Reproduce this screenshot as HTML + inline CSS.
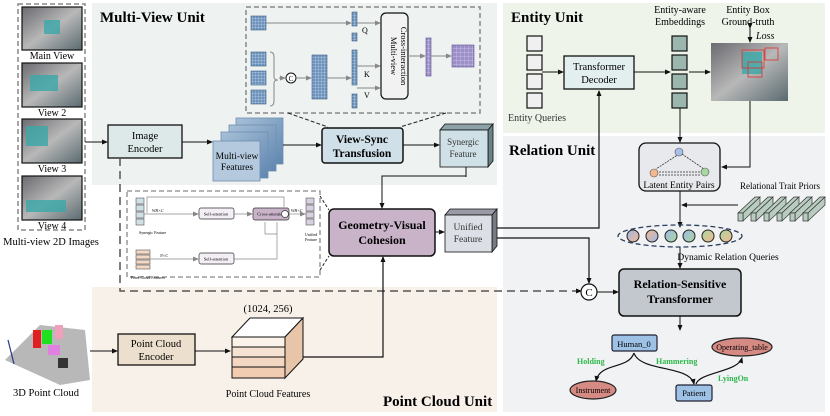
<!DOCTYPE html>
<html><head><meta charset="utf-8"><style>
html,body{margin:0;padding:0;background:#fff}
svg{display:block;font-family:"Liberation Serif",serif}
</style></head><body>
<svg width="830" height="416" viewBox="0 0 830 416" xmlns="http://www.w3.org/2000/svg">
<defs>
<marker id="a" markerWidth="6" markerHeight="6" refX="5" refY="3" orient="auto" markerUnits="userSpaceOnUse"><path d="M0,0.5 L6,3 L0,5.5z" fill="#111"/></marker>
<marker id="g" markerWidth="6" markerHeight="6" refX="5" refY="3" orient="auto" markerUnits="userSpaceOnUse"><path d="M0,0.5 L6,3 L0,5.5z" fill="#888"/></marker>
<pattern id="gb" width="3" height="3" patternUnits="userSpaceOnUse"><rect width="3" height="3" fill="#6d93bd"/><path d="M0,0 H3 M0,0 V3" stroke="#dce8f4" stroke-width=".5"/></pattern>
<pattern id="gp" width="4" height="4" patternUnits="userSpaceOnUse"><rect width="4" height="4" fill="#9c8fc8"/><path d="M0,0 H4 M0,0 V4" stroke="#e8e4f4" stroke-width=".5"/></pattern>
<linearGradient id="mv" x1="0" y1="0" x2="1" y2="1"><stop offset="0" stop-color="#a8c0d8"/><stop offset="1" stop-color="#5f86b0"/></linearGradient>
<linearGradient id="room" x1="0" y1="0" x2="1" y2="1"><stop offset="0" stop-color="#6a6a70"/><stop offset=".5" stop-color="#b8b8b8"/><stop offset="1" stop-color="#5a6a70"/></linearGradient>
<linearGradient id="q1" x1="0" y1="0" x2="1" y2="1"><stop offset="0" stop-color="#9fb8e8"/><stop offset="1" stop-color="#f4b890"/></linearGradient>
<linearGradient id="q2" x1="0" y1="0" x2="1" y2="1"><stop offset="0" stop-color="#f4b890"/><stop offset="1" stop-color="#9fb8e8"/></linearGradient>
<linearGradient id="q3" x1="0" y1="0" x2="1" y2="1"><stop offset="0" stop-color="#9fb8e8"/><stop offset="1" stop-color="#a8d8a0"/></linearGradient>
<linearGradient id="q4" x1="0" y1="0" x2="1" y2="1"><stop offset="0" stop-color="#a8d8a0"/><stop offset="1" stop-color="#f4b890"/></linearGradient>
</defs>
<rect x="92" y="3" width="405" height="182" fill="#eef2f1"/>
<rect x="92" y="287" width="405" height="125" fill="#f8f1ea"/>
<rect x="503" y="3" width="322" height="130" fill="#eef4ea"/>
<rect x="503" y="136" width="322" height="276" fill="#f1f2f4"/>
<text x="100" y="22" font-size="15" font-weight="bold">Multi-View Unit</text>
<text x="511" y="22" font-size="15" font-weight="bold">Entity Unit</text>
<text x="509" y="155" font-size="15" font-weight="bold">Relation Unit</text>
<text x="383" y="406" font-size="15" font-weight="bold">Point Cloud Unit</text>

<rect x="18" y="4" width="67" height="226" fill="none" stroke="#888" stroke-width="1.5" stroke-dasharray="5,3"/>
<g stroke="#111" stroke-width="1.2">
<rect x="22" y="7" width="60" height="43" fill="url(#room)"/>
<rect x="22" y="63" width="60" height="44" fill="url(#room)"/>
<rect x="22" y="119" width="60" height="44" fill="url(#room)"/>
<rect x="22" y="176" width="60" height="44" fill="url(#room)"/>
</g>
<g fill="#3aa8a8" opacity=".8"><rect x="44" y="20" width="16" height="14"/><rect x="30" y="75" width="28" height="16"/><rect x="26" y="126" width="22" height="20"/><rect x="26" y="200" width="40" height="12"/></g>
<g font-size="10" text-anchor="middle"><text x="52" y="59">Main View</text><text x="52" y="116">View 2</text><text x="52" y="172">View 3</text><text x="52" y="229">View 4</text></g>
<text x="51" y="245" font-size="10.5" text-anchor="middle">Multi-view 2D Images</text>

<path d="M5,360 L40,325 L85,330 L90,380 L60,385 Z" fill="#b8b8b8"/>
<rect x="33" y="330" width="8" height="18" fill="#e02020"/><rect x="42" y="330" width="10" height="14" fill="#20e020"/><rect x="55" y="325" width="8" height="14" fill="#f0a0b8"/><rect x="48" y="345" width="12" height="10" fill="#e080e0"/><rect x="58" y="358" width="10" height="10" fill="#333"/>
<line x1="8" y1="340" x2="14" y2="364" stroke="#2a3a8a" stroke-width="1.2"/>
<text x="46" y="396" font-size="10.5" text-anchor="middle">3D Point Cloud</text>

<line x1="85" y1="142" x2="107" y2="142" stroke="#111" marker-end="url(#a)"/>
<rect x="108" y="125" width="74" height="33" fill="#dde9e8" stroke="#111" stroke-width="1.3"/>
<text x="145" y="139" font-size="10.5" text-anchor="middle">Image</text><text x="145" y="152" font-size="10.5" text-anchor="middle">Encoder</text>
<line x1="182" y1="142" x2="212" y2="142" stroke="#111" marker-end="url(#a)"/>
<g stroke="#6f8fae" stroke-width=".8">
<rect x="236" y="118" width="47" height="46" fill="url(#mv)"/>
<rect x="229" y="125" width="47" height="46" fill="url(#mv)"/>
<rect x="221" y="132" width="47" height="46" fill="url(#mv)"/>
<rect x="213" y="141" width="47" height="40" fill="#b4c8de"/>
</g>
<text x="237" y="159" font-size="9.5" text-anchor="middle">Multi-view</text><text x="237" y="170" font-size="9.5" text-anchor="middle">Features</text>
<line x1="283" y1="145" x2="321" y2="145" stroke="#111" marker-end="url(#a)"/>
<rect x="322" y="128" width="81" height="35" rx="3" fill="#cfe0e8" stroke="#111" stroke-width="1.5"/>
<text x="362" y="143" font-size="11.5" font-weight="bold" text-anchor="middle">View-Sync</text><text x="362" y="157" font-size="11.5" font-weight="bold" text-anchor="middle">Transfusion</text>
<line x1="403" y1="145" x2="439" y2="145" stroke="#111" marker-end="url(#a)"/>
<polygon points="440,130 445,124 493,124 488,130" fill="#8aa2a8" stroke="#111" stroke-width=".8"/>
<polygon points="488,130 493,124 493,161 488,167" fill="#6a8288" stroke="#111" stroke-width=".8"/>
<rect x="440" y="130" width="48" height="37" fill="#cfe0e6" stroke="#111" stroke-width=".8"/>
<text x="463" y="145" font-size="9" text-anchor="middle" fill="#333">Synergic</text><text x="463" y="157" font-size="9" text-anchor="middle" fill="#333">Feature</text>
<rect x="246" y="7" width="234" height="106" fill="none" stroke="#888" stroke-width="1.5" stroke-dasharray="5,3"/>
<line x1="288" y1="113" x2="328" y2="127" stroke="#222" stroke-dasharray="4,2"/>
<line x1="446" y1="113" x2="400" y2="127" stroke="#222" stroke-dasharray="4,2"/>
<g fill="url(#gb)" stroke="#3d5f86" stroke-width=".6">
<rect x="251" y="16" width="15" height="14"/><rect x="251" y="52" width="15" height="14"/><rect x="251" y="71" width="15" height="14"/><rect x="251" y="90" width="15" height="14"/>
<rect x="312" y="55" width="15" height="44"/>
<rect x="352" y="12" width="5" height="14"/><rect x="352" y="33" width="5" height="8"/>
<rect x="352" y="50" width="5" height="35"/><rect x="352" y="94" width="5" height="14"/>
</g>
<rect x="426" y="38" width="5" height="38" fill="url(#gp)" stroke="#5e4f90" stroke-width=".6"/>
<rect x="452" y="45" width="22" height="22" fill="url(#gp)" stroke="#5e4f90" stroke-width=".6"/>
<path d="M270,52 q4,0 4,5 v20 q0,3 4,3 q-4,0 -4,3 v18 q0,5 -4,5" fill="none" stroke="#888"/>
<circle cx="291" cy="78" r="5" fill="#fff" stroke="#111"/><text x="291" y="81" font-size="7" text-anchor="middle">C</text>
<line x1="279" y1="78" x2="285" y2="78" stroke="#888" marker-end="url(#g)"/>
<line x1="296" y1="78" x2="311" y2="78" stroke="#888" marker-end="url(#g)"/>
<line x1="327" y1="78" x2="351" y2="78" stroke="#888" marker-end="url(#g)"/>
<line x1="266" y1="23" x2="351" y2="23" stroke="#888" marker-end="url(#g)"/>
<line x1="357" y1="23" x2="380" y2="23" stroke="#888" marker-end="url(#g)"/>
<line x1="357" y1="66" x2="380" y2="66" stroke="#888" marker-end="url(#g)"/>
<line x1="357" y1="88" x2="380" y2="88" stroke="#888" marker-end="url(#g)"/>
<text x="362" y="33" font-size="8">Q</text><text x="364" y="77" font-size="8">K</text><text x="364" y="98" font-size="8">V</text>
<rect x="381" y="13" width="27" height="86" rx="5" fill="#f2f2f2" stroke="#111" stroke-width="1.2"/>
<text transform="translate(391,56) rotate(90)" font-size="8.5" text-anchor="middle">Multi-view</text>
<text transform="translate(401,56) rotate(90)" font-size="8.5" text-anchor="middle">Cross-interaction</text>
<line x1="408" y1="56" x2="425" y2="56" stroke="#888" marker-end="url(#g)"/>
<line x1="431" y1="56" x2="451" y2="56" stroke="#888" marker-end="url(#g)"/>

<path d="M120,158 V291 H581" fill="none" stroke="#555" stroke-width="1.5" stroke-dasharray="8,5" marker-end="url(#a)"/>
<rect x="127" y="191" width="193" height="86" fill="#fff" stroke="#888" stroke-width="1.3" stroke-dasharray="5,3"/>
<line x1="320" y1="196" x2="329" y2="210" stroke="#222" stroke-dasharray="3,2"/>
<line x1="320" y1="270" x2="329" y2="256" stroke="#222" stroke-dasharray="3,2"/>
<g fill="#cfe0e6" stroke="#555" stroke-width=".6"><rect x="136" y="198" width="8" height="6"/><rect x="136" y="205" width="8" height="6"/><rect x="136" y="212" width="8" height="6"/><rect x="136" y="219" width="8" height="6"/></g>
<g fill="#d8cfe0" stroke="#555" stroke-width=".6"><rect x="306" y="198" width="8" height="6"/><rect x="306" y="205" width="8" height="6"/><rect x="306" y="212" width="8" height="6"/><rect x="306" y="219" width="8" height="6"/></g>
<g fill="#f3d8c4" stroke="#555" stroke-width=".6"><rect x="136" y="250" width="14" height="4"/><rect x="136" y="255" width="14" height="4"/><rect x="136" y="260" width="14" height="4"/><rect x="136" y="265" width="14" height="4"/></g>
<text x="139" y="234" font-size="4">Synergic Feature</text><text x="131" y="279" font-size="4">Point Cloud Features</text>
<text x="305" y="236" font-size="4">Unified</text><text x="305" y="241" font-size="4">Feature</text>
<path d="M147,213 V197 H284 V207" fill="none" stroke="#888" stroke-width=".7"/>
<line x1="144" y1="214" x2="198" y2="214" stroke="#888" stroke-width=".7" marker-end="url(#g)"/>
<rect x="199" y="208" width="35" height="11" rx="2" fill="#f4eef6" stroke="#333" stroke-width=".7"/><text x="216" y="215.5" font-size="4.5" text-anchor="middle">Self-attention</text>
<line x1="234" y1="214" x2="252" y2="214" stroke="#888" stroke-width=".7" marker-end="url(#g)"/>
<rect x="253" y="208" width="36" height="12" rx="2" fill="#c9b3c9" stroke="#333" stroke-width=".7"/><text x="271" y="215.5" font-size="4.5" text-anchor="middle">Cross-attention</text>
<circle cx="285" cy="214" r="3.5" fill="#fff" stroke="#333" stroke-width=".7"/>
<line x1="289" y1="214" x2="305" y2="214" stroke="#888" stroke-width=".7" marker-end="url(#g)"/>
<text x="152" y="212" font-size="4" font-style="italic">WH×C</text><text x="291" y="212" font-size="4" font-style="italic">WH×C</text>
<line x1="150" y1="259" x2="198" y2="259" stroke="#888" stroke-width=".7" marker-end="url(#g)"/>
<text x="160" y="257" font-size="4" font-style="italic">N×C</text>
<rect x="199" y="253" width="35" height="11" rx="2" fill="#f4eef6" stroke="#333" stroke-width=".7"/><text x="216" y="260.5" font-size="4.5" text-anchor="middle">Self-attention</text>
<path d="M234,259 H277 V222 M265,234 H277 M265,234 V222" fill="none" stroke="#888" stroke-width=".7"/>

<line x1="466" y1="167" x2="466" y2="177" stroke="#111"/>
<path d="M466,176 H382 V208" fill="none" stroke="#111" marker-end="url(#a)"/>
<rect x="329" y="209" width="106" height="47" rx="5" fill="#c9b3c9" stroke="#111" stroke-width="1.5"/>
<text x="382" y="229" font-size="12" font-weight="bold" text-anchor="middle">Geometry-Visual</text><text x="382" y="244" font-size="12" font-weight="bold" text-anchor="middle">Cohesion</text>
<line x1="435" y1="232" x2="444" y2="232" stroke="#111" marker-end="url(#a)"/>
<polygon points="445,215 450,209 497,209 492,215" fill="#9a9aa6" stroke="#111" stroke-width=".8"/>
<polygon points="492,215 497,209 497,246 492,252" fill="#7a7a86" stroke="#111" stroke-width=".8"/>
<rect x="445" y="215" width="47" height="37" fill="#dcdfe6" stroke="#111" stroke-width=".8"/>
<text x="468" y="230" font-size="9.5" text-anchor="middle" fill="#333">Unified</text><text x="468" y="242" font-size="9.5" text-anchor="middle" fill="#333">Feature</text>
<path d="M497,228 H599 V91" fill="none" stroke="#111" stroke-width="1.2" marker-end="url(#a)"/>
<path d="M497,238 H589 V283" fill="none" stroke="#111" stroke-width="1.2" marker-end="url(#a)"/>

<line x1="90" y1="351" x2="117" y2="351" stroke="#111" marker-end="url(#a)"/>
<rect x="118" y="334" width="77" height="31" fill="#ecdfcd" stroke="#111" stroke-width="1.3"/>
<text x="156" y="347" font-size="10.5" text-anchor="middle">Point Cloud</text><text x="156" y="360" font-size="10.5" text-anchor="middle">Encoder</text>
<line x1="195" y1="351" x2="230" y2="351" stroke="#111" marker-end="url(#a)"/>
<text x="268" y="312" font-size="10.5" text-anchor="middle">(1024, 256)</text>
<polygon points="232,337 250,318 303,318 285,337" fill="#fff" stroke="#111"/>
<polygon points="285,337 303,318 303,359 285,378" fill="#e8c4a8" stroke="#111"/>
<rect x="232" y="337" width="53" height="10" fill="#fbf2ea" stroke="#111"/>
<rect x="232" y="347" width="53" height="10" fill="#f6e2d2" stroke="#111"/>
<rect x="232" y="357" width="53" height="10" fill="#f3d7c2" stroke="#111"/>
<rect x="232" y="367" width="53" height="11" fill="#f2ccb0" stroke="#111"/>
<text x="268" y="397" font-size="10" text-anchor="middle">Point Cloud Features</text>
<path d="M303,357 H383 V257" fill="none" stroke="#111" stroke-width="1.2" marker-end="url(#a)"/>

<g fill="#f0f0f0" stroke="#111" stroke-width="1.2"><rect x="527" y="36" width="15" height="15"/><rect x="527" y="55" width="15" height="15"/><rect x="527" y="74" width="15" height="15"/><rect x="527" y="93" width="15" height="15"/></g>
<text x="537" y="121" font-size="10" text-anchor="middle" fill="#333">Entity Queries</text>
<line x1="542" y1="72" x2="563" y2="72" stroke="#111" marker-end="url(#a)"/>
<rect x="564" y="56" width="70" height="33" fill="#e3eeee" stroke="#111" stroke-width="1.3"/>
<text x="599" y="70" font-size="10.5" text-anchor="middle">Transformer</text><text x="599" y="83" font-size="10.5" text-anchor="middle">Decoder</text>
<line x1="634" y1="72" x2="670" y2="72" stroke="#111" marker-end="url(#a)"/>
<g fill="#9bb7ad" stroke="#111" stroke-width="1.2"><rect x="672" y="36" width="15" height="15"/><rect x="672" y="55" width="15" height="15"/><rect x="672" y="74" width="15" height="15"/><rect x="672" y="93" width="15" height="15"/></g>
<text x="680" y="13" font-size="10" text-anchor="middle">Entity-aware</text><text x="680" y="25" font-size="10" text-anchor="middle">Embeddings</text>
<line x1="689" y1="72" x2="710" y2="72" stroke="#111" marker-end="url(#a)"/>
<rect x="711" y="43" width="77" height="58" fill="url(#room)"/>
<rect x="742" y="52" width="20" height="22" fill="#3aa8a8" opacity=".8"/>
<g fill="none" stroke="#e03030" stroke-width=".8"><rect x="742" y="50" width="22" height="18"/><rect x="748" y="62" width="14" height="15"/><rect x="765" y="48" width="13" height="12"/></g>
<text x="748" y="13" font-size="10" text-anchor="middle">Entity Box</text><text x="748" y="25" font-size="10" text-anchor="middle">Ground-truth</text>
<line x1="750" y1="28" x2="750" y2="42" stroke="#111" marker-end="url(#a)" marker-start="url(#a)"/>
<text x="756" y="39" font-size="10" font-style="italic">Loss</text>

<line x1="680" y1="108" x2="680" y2="142" stroke="#111" marker-end="url(#a)"/>
<path d="M750,101 V167 H722" fill="none" stroke="#111" marker-end="url(#a)"/>
<rect x="639" y="143" width="81" height="48" rx="7" fill="#e8e9ec" stroke="#111" stroke-width="1.3"/>
<g stroke="#333" stroke-width=".8" stroke-dasharray="2,1"><line x1="679" y1="154" x2="656" y2="169"/><line x1="682" y1="154" x2="704" y2="169"/><line x1="659" y1="172" x2="701" y2="172"/><line x1="659" y1="175" x2="701" y2="175"/></g>
<circle cx="679" cy="152" r="4" fill="#a8c0e8" stroke="#555" stroke-width=".6"/>
<circle cx="654" cy="173" r="4" fill="#f4b890" stroke="#555" stroke-width=".6"/>
<circle cx="705" cy="172" r="4" fill="#a8d8a0" stroke="#555" stroke-width=".6"/>
<text x="679" y="188" font-size="9.5" text-anchor="middle">Latent Entity Pairs</text>
<text x="780" y="189" font-size="9" text-anchor="middle">Relational Trait Priors</text>
<g fill="#b8ccc0" stroke="#333" stroke-width=".7">
<g id="bar"><polygon points="738,213 755,197 760,197 743,213"/><polygon points="743,213 760,197 760,205 743,221"/><rect x="738" y="213" width="5" height="8"/></g>
<use href="#bar" x="13"/><use href="#bar" x="26"/><use href="#bar" x="39"/><use href="#bar" x="52"/><use href="#bar" x="65"/>
</g>
<line x1="680" y1="191" x2="680" y2="227" stroke="#111" marker-end="url(#a)"/>
<line x1="738" y1="205" x2="682" y2="205" stroke="#111" marker-end="url(#a)"/>
<ellipse cx="680" cy="236" rx="62" ry="11" fill="none" stroke="#2a3e60" stroke-width="1.3" stroke-dasharray="5,3"/>
<g stroke="#222" stroke-width="1"><circle cx="633" cy="236" r="6" fill="url(#q1)"/><circle cx="652" cy="236" r="6" fill="url(#q2)"/><circle cx="671" cy="236" r="6" fill="url(#q3)"/><circle cx="689" cy="236" r="6" fill="url(#q3)"/><circle cx="708" cy="236" r="6" fill="url(#q4)"/><circle cx="726" cy="236" r="6" fill="url(#q4)"/></g>
<text x="728" y="260" font-size="9.5" text-anchor="middle">Dynamic Relation Queries</text>
<line x1="680" y1="247" x2="680" y2="268" stroke="#111" marker-end="url(#a)"/>
<circle cx="589" cy="292" r="8" fill="#fff" stroke="#111" stroke-width="1.2"/>
<text x="589" y="296" font-size="11" text-anchor="middle">C</text>
<line x1="597" y1="292" x2="618" y2="292" stroke="#111" marker-end="url(#a)"/>
<rect x="619" y="269" width="122" height="47" rx="5" fill="#c3c8cf" stroke="#111" stroke-width="1.5"/>
<text x="680" y="288" font-size="12" font-weight="bold" text-anchor="middle">Relation-Sensitive</text><text x="680" y="303" font-size="12" font-weight="bold" text-anchor="middle">Transformer</text>
<line x1="680" y1="316" x2="680" y2="330" stroke="#111" marker-end="url(#a)"/>
<path d="M634,353 C628,370 600,362 596,381" fill="none" stroke="#111" stroke-width="1.2" marker-end="url(#a)"/>
<path d="M634,353 C640,372 690,365 694,384" fill="none" stroke="#111" stroke-width="1.2" marker-end="url(#a)"/>
<path d="M696,384 C700,372 738,372 742,358" fill="none" stroke="#111" stroke-width="1.2" marker-end="url(#a)"/>
<rect x="612" y="335" width="45" height="16" rx="2" fill="#9ec1e6" stroke="#223" stroke-width="1.2"/>
<text x="634" y="347" font-size="8.5" text-anchor="middle">Human_0</text>
<ellipse cx="742" cy="347" rx="30" ry="9" fill="#d68a84" stroke="#222" stroke-width="1.2"/>
<text x="742" y="350" font-size="8" text-anchor="middle">Operating_table</text>
<ellipse cx="593" cy="390" rx="23" ry="9" fill="#d68a84" stroke="#222" stroke-width="1.2"/>
<text x="593" y="393" font-size="8" text-anchor="middle">Instrument</text>
<rect x="676" y="385" width="36" height="16" rx="2" fill="#9ec1e6" stroke="#223" stroke-width="1.2"/>
<text x="694" y="396" font-size="8.5" text-anchor="middle">Patient</text>
<g fill="#2db84a" font-size="8" font-weight="bold"><text x="577" y="364">Holding</text><text x="656" y="364">Hammering</text><text x="718" y="381">LyingOn</text></g>
</svg>
</body></html>
